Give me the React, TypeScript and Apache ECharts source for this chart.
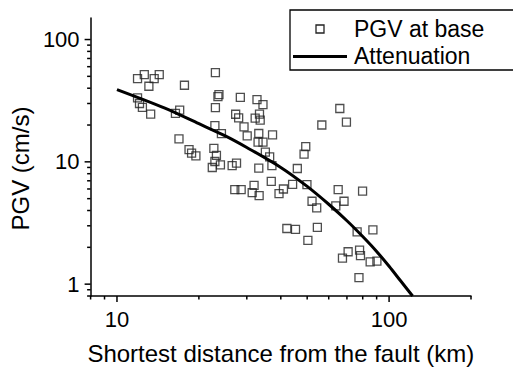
import React, { useEffect, useRef } from "react";
import * as echarts from "echarts";

// ---- data ----
const SCATTER_NAME = "PGV at base";
const LINE_NAME = "Attenuation";
const X_TITLE = "Shortest distance from the fault (km)";
const Y_TITLE = "PGV (cm/s)";

const X_MIN = 8;
const X_MAX = 200;
const Y_MIN = 0.8;
const Y_MAX = 150;

const distances = [
  11.9, 12.6, 13.1, 13.7, 14.3, 17.7, 11.9, 12.1, 12.4, 13.3, 16.4, 17.0, 16.9, 18.4, 18.8, 19.5,
  23.0, 23.5, 23.7, 28.4, 23.0, 27.3, 28.0, 29.3, 22.9, 24.2, 30.1, 32.7, 34.4, 32.2, 33.4, 33.6,
  33.2, 37.3, 33.0, 34.4, 22.7, 23.2, 22.9, 22.4, 24.0, 26.5, 27.5, 33.2, 35.1, 36.4, 37.1, 49.4,
  48.7, 46.0, 36.9, 27.1, 28.6, 31.9, 31.4, 33.3, 39.4, 40.9, 44.2, 49.9, 52.1, 54.2, 65.9, 69.7,
  56.6, 65.0, 79.9, 63.7, 68.3, 42.1, 45.3, 50.3, 54.5, 76.3, 87.2, 70.7, 67.4, 77.9, 78.5, 85.2,
  90.2, 77.5,
];
const pgvs = [
  47.9, 51.6, 41.5, 47.9, 51.6, 42.3, 33.3, 30.0, 27.9, 24.6, 24.9, 26.5, 15.4, 12.6, 11.8, 11.2,
  53.6, 34.1, 35.4, 33.6, 27.7, 24.5, 22.9, 19.3, 19.8, 17.0, 16.3, 32.3, 29.4, 22.8, 24.6, 21.9,
  17.05, 16.6, 14.5, 14.5, 12.9, 11.3, 10.06, 8.99, 9.45, 9.33, 9.76, 8.89, 12.0, 11.0, 9.33, 13.3,
  11.55, 8.82, 6.92, 5.92, 5.92, 6.42, 5.6, 5.29, 5.49, 6.0, 6.54, 6.5, 4.76, 4.2, 27.3, 21.1,
  20.0, 5.92, 5.76, 4.36, 4.76, 2.85, 2.8, 2.28, 2.91, 2.68, 2.78, 1.84, 1.63, 1.9, 1.71, 1.52,
  1.54, 1.13,
];

const curveDistances = [10, 15, 20, 25, 30, 40, 50, 60, 70, 80, 90, 100, 110, 122];
const curvePgvs = [39, 27.5, 20.5, 16.3, 13.1, 9.0, 6.3, 4.5, 3.3, 2.45, 1.85, 1.4, 1.07, 0.8];

const xTickValues = [8, 9, 10, 20, 30, 40, 50, 60, 70, 80, 90, 100, 200];
const yTickValues = [0.8, 0.9, 1, 2, 3, 4, 5, 6, 7, 8, 9, 10, 20, 30, 40, 50, 60, 70, 80, 90, 100];

const FONT = '"Liberation Sans", Arial, Helvetica, sans-serif';

const isDecade = (v: number) => Math.abs(Math.log10(v) - Math.round(Math.log10(v))) < 1e-6;

export default function App() {
  const ref = useRef<HTMLDivElement>(null);

  useEffect(() => {
    if (!ref.current) return;
    const chart = echarts.init(ref.current, undefined, { renderer: "svg" });

    const scatterData = distances.map((d, i) => [d, pgvs[i]]);
    const curveData = curveDistances.map((d, i) => [d, curvePgvs[i]]);
    const xTicks = xTickValues.map((v) => [v, Y_MIN, isDecade(v) ? 1 : 0]);
    const yTicks = yTickValues.map((v) => [X_MIN, v, isDecade(v) ? 1 : 0]);

    chart.setOption({
      animation: false,
      backgroundColor: "#fff",
      grid: { left: 88, right: 42, top: 18, bottom: 73 },
      xAxis: {
        type: "log",
        logBase: 10,
        min: X_MIN,
        max: X_MAX,
        name: X_TITLE,
        nameLocation: "middle",
        nameGap: 45,
        nameTextStyle: { fontFamily: FONT, fontSize: 24, color: "#000" },
        axisLine: { lineStyle: { color: "#000", width: 1.5 } },
        axisTick: { show: false },
        splitLine: { show: false },
        axisLabel: {
          margin: 12,
          fontFamily: FONT,
          fontSize: 22,
          color: "#000",
          formatter: (v: number) => (isDecade(v) ? String(Math.round(v)) : ""),
        },
      },
      yAxis: {
        type: "log",
        logBase: 10,
        min: Y_MIN,
        max: Y_MAX,
        name: Y_TITLE,
        nameLocation: "middle",
        nameGap: 57,
        nameTextStyle: { fontFamily: FONT, fontSize: 24, color: "#000", padding: [0, 23, 0, 0] },
        axisLine: { lineStyle: { color: "#000", width: 1.5 } },
        axisTick: { show: false },
        splitLine: { show: false },
        axisLabel: {
          margin: 11,
          fontFamily: FONT,
          fontSize: 22,
          color: "#000",
          formatter: (v: number) => (isDecade(v) ? String(Math.round(v)) : ""),
        },
      },
      series: [
        {
          name: SCATTER_NAME,
          type: "scatter",
          data: scatterData,
          symbol: "rect",
          symbolSize: 8,
          itemStyle: { color: "rgba(255,255,255,0)", borderColor: "#222", borderWidth: 1.3 },
          z: 3,
        },
        {
          name: LINE_NAME,
          type: "line",
          data: curveData,
          smooth: 0.3,
          showSymbol: false,
          symbol: "none",
          lineStyle: { color: "#000", width: 3 },
          z: 4,
        },
        {
          type: "custom",
          silent: true,
          clip: false,
          data: xTicks,
          renderItem: (params: any, api: any) => {
            const p = api.coord([api.value(0), api.value(1)]);
            const len = api.value(2) ? 6 : 3.5;
            return {
              type: "line",
              shape: { x1: p[0], y1: p[1], x2: p[0], y2: p[1] + len },
              style: { stroke: "#000", lineWidth: 1.5 },
            };
          },
        },
        {
          type: "custom",
          silent: true,
          clip: false,
          data: yTicks,
          renderItem: (params: any, api: any) => {
            const p = api.coord([api.value(0), api.value(1)]);
            const len = api.value(2) ? 6 : 3.5;
            return {
              type: "line",
              shape: { x1: p[0], y1: p[1], x2: p[0] - len, y2: p[1] },
              style: { stroke: "#000", lineWidth: 1.5 },
            };
          },
        },
      ],
      graphic: [
        {
          type: "rect",
          z: 100,
          shape: { x: 290, y: 10, width: 260, height: 60 },
          style: { fill: "#fff", stroke: "#000", lineWidth: 1.3 },
        },
        {
          type: "rect",
          z: 101,
          shape: { x: 316, y: 25, width: 8, height: 8 },
          style: { fill: "none", stroke: "#222", lineWidth: 1.3 },
        },
        {
          type: "text",
          z: 101,
          x: 354,
          y: 29,
          style: { text: SCATTER_NAME, fontFamily: FONT, fontSize: 23, fill: "#000", verticalAlign: "middle" },
        },
        {
          type: "line",
          z: 101,
          shape: { x1: 293, y1: 56.5, x2: 347, y2: 56.5 },
          style: { stroke: "#000", lineWidth: 3 },
        },
        {
          type: "text",
          z: 101,
          x: 354,
          y: 56,
          style: { text: LINE_NAME, fontFamily: FONT, fontSize: 23, fill: "#000", verticalAlign: "middle" },
        },
      ],
    });

    return () => chart.dispose();
  }, []);

  return <div ref={ref} style={{ width: 513, height: 370, position: "absolute", left: 0, top: 0 }} />;
}
